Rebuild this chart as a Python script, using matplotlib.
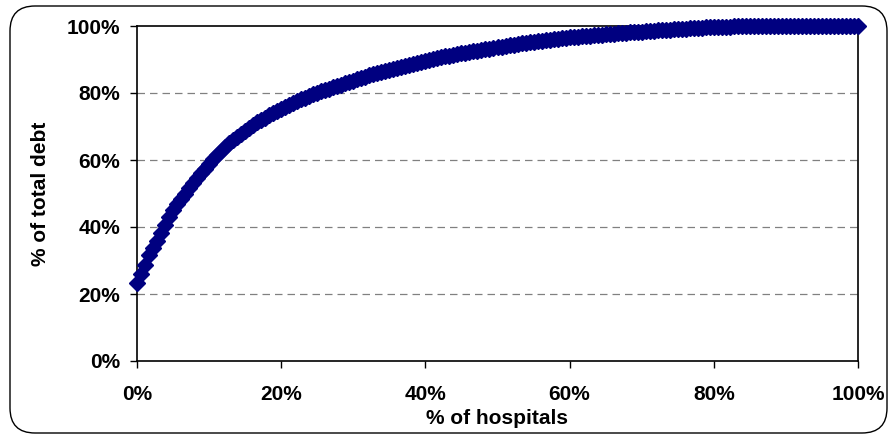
import matplotlib
matplotlib.use("Agg")
import matplotlib.pyplot as plt
import numpy as np
from matplotlib.patches import FancyBboxPatch
from matplotlib.ticker import PercentFormatter

# cumulative share of total debt (%), hospitals ranked by debt, one value per 0.5% of hospitals
debt_share = [
    23.3, 26.0, 28.8, 31.5, 33.8, 35.9, 38.3, 40.7, 43.0, 45.0,
    46.8, 48.4, 50.0, 51.5, 53.0, 54.5, 56.0, 57.4, 58.8, 60.2,
    61.5, 62.8, 64.0, 65.0, 66.0, 67.0, 67.9, 68.8, 69.6, 70.4,
    71.2, 71.9, 72.6, 73.3, 74.0, 74.7, 75.3, 75.9, 76.5, 77.1,
    77.6, 78.1, 78.6, 79.1, 79.6, 80.0, 80.5, 80.9, 81.3, 81.7,
    82.1, 82.5, 82.9, 83.3, 83.7, 84.1, 84.5, 84.9, 85.3, 85.7,
    86.1, 86.4, 86.7, 87.0, 87.3, 87.6, 87.9, 88.2, 88.5, 88.8,
    89.1, 89.4, 89.6, 89.9, 90.1, 90.4, 90.6, 90.9, 91.1, 91.4,
    91.6, 91.8, 92.0, 92.2, 92.4, 92.6, 92.8, 93.0, 93.2, 93.4,
    93.6, 93.8, 94.0, 94.2, 94.4, 94.6, 94.8, 95.0, 95.2, 95.3,
    95.5, 95.6, 95.8, 95.9, 96.0, 96.2, 96.3, 96.4, 96.6, 96.7,
    96.8, 96.9, 97.0, 97.1, 97.2, 97.3, 97.4, 97.5, 97.6, 97.7,
    97.8, 97.9, 98.0, 98.1, 98.2, 98.3, 98.3, 98.4, 98.5, 98.6,
    98.7, 98.8, 98.9, 98.9, 99.0, 99.1, 99.2, 99.2, 99.3, 99.4,
    99.5, 99.5, 99.6, 99.6, 99.7, 99.7, 99.8, 99.8, 99.8, 99.9,
    99.9, 99.9, 99.9, 100.0, 100.0, 100.0, 100.0, 100.0, 100.0, 100.0,
    100.0, 100.0, 100.0, 100.0, 100.0, 100.0, 100.0, 100.0, 100.0, 100.0,
    100.0, 100.0, 100.0, 100.0, 100.0, 100.0, 100.0, 100.0, 100.0, 100.0,
    100.0,
]
# hospital rank as share of all hospitals
hosp_share = np.arange(len(debt_share)) / (len(debt_share) - 1) * 100

plt.rcParams['font.family'] = ['Liberation Sans', 'DejaVu Sans']

fig = plt.figure(figsize=(8.9, 4.37), dpi=100)
fig.patch.set_facecolor('white')

# rounded chart-area border (inches, so the corners stay round)
border = FancyBboxPatch((0.10, 0.04), 8.77, 4.27,
                        boxstyle="round,pad=0,rounding_size=0.25",
                        transform=fig.dpi_scale_trans, facecolor='none',
                        edgecolor='black', linewidth=1.0)
fig.patches.append(border)

ax = fig.add_axes([137 / 890, (437 - 361) / 437, 721 / 890, 335 / 437])
ax.plot(hosp_share, debt_share, linestyle='none', marker='D', markersize=8,
        color='#000080', markeredgecolor='#000080', clip_on=False, zorder=3)

ax.set_xlim(0, 100)
ax.set_ylim(0, 100)
ax.set_xticks([0, 20, 40, 60, 80, 100])
ax.set_yticks([0, 20, 40, 60, 80, 100])
ax.xaxis.set_major_formatter(PercentFormatter(decimals=0))
ax.yaxis.set_major_formatter(PercentFormatter(decimals=0))

for y in [20, 40, 60, 80]:
    ax.axhline(y, color='#808080', linewidth=0.9, linestyle=(0, (6, 4)), zorder=1)

for side in ['left', 'bottom', 'top', 'right']:
    ax.spines[side].set_linewidth(1.2)
    ax.spines[side].set_color('black')

ax.tick_params(axis='both', direction='out', length=5, width=1,
               labelsize=15)
ax.tick_params(axis='y', pad=7)
ax.tick_params(axis='x', pad=12)
for lab in ax.get_xticklabels() + ax.get_yticklabels():
    lab.set_fontweight('bold')

ax.set_xlabel('% of hospitals', fontsize=15, fontweight='bold', labelpad=4)
ax.set_ylabel('% of total debt', fontsize=15, fontweight='bold', labelpad=12)

fig.savefig('out.png', dpi=100)
